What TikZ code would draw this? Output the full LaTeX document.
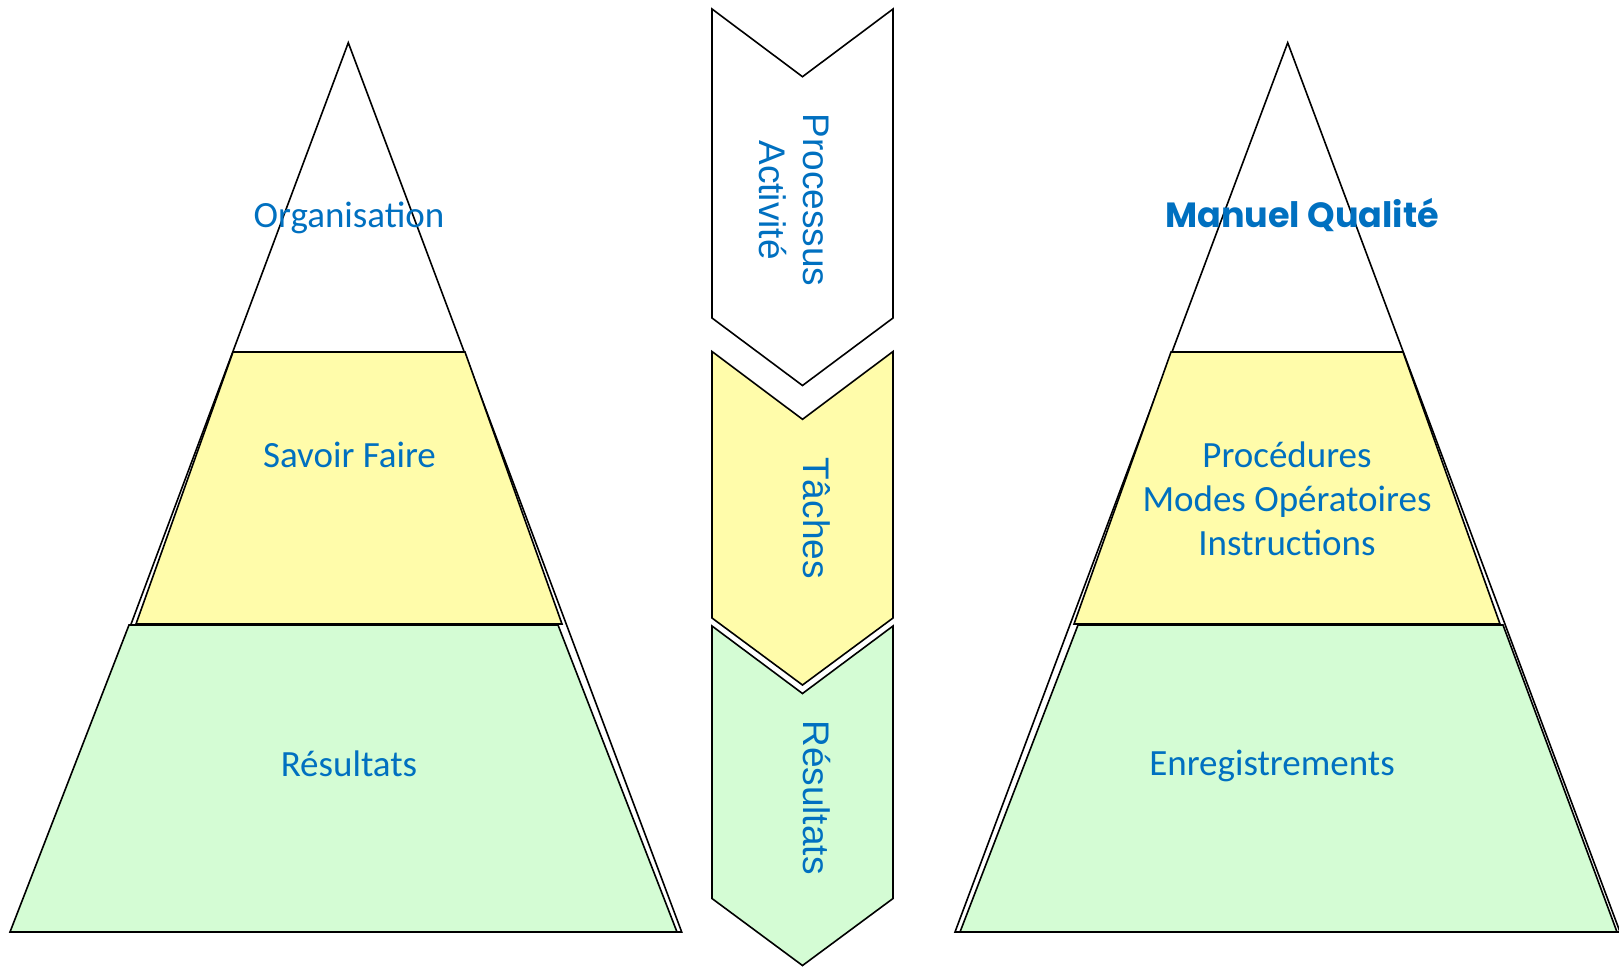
\documentclass[tikz,border=0pt]{standalone}
\usepackage{fontspec}
\setmainfont{Carlito}
\newfontfamily\chevfont{Liberation Sans}
\newfontfamily\titlefont{Poppins}
\definecolor{txtblue}{RGB}{0,112,192}
\definecolor{tierYellow}{RGB}{255,252,170}
\definecolor{tierGreen}{RGB}{212,252,212}
\begin{document}
\begin{tikzpicture}[x=1pt,y=-1pt,
  outline/.style={draw=black, line width=1.6pt, line join=miter},
  tierlabel/.style={text=txtblue, font=\fontsize{37}{44}\selectfont, inner sep=0pt, align=center},
  chevlabel/.style={text=txtblue, font=\chevfont\fontsize{37}{44.5}\selectfont, inner sep=0pt, rotate=-90, align=center},
]
\useasboundingbox[fill=white] (0,0) rectangle (1619,967);

% ---- left pyramid: outline triangle, then the two coloured tiers
\draw[outline, fill=white] (348.3,42.7) -- (681.7,932) -- (16,932) -- cycle;
\draw[outline, fill=tierYellow] (233,352) -- (465,352) -- (562,624) -- (136,624) -- cycle;
\draw[outline, fill=tierGreen] (129,625) -- (558,625) -- (677,932) -- (10,932) -- cycle;

\node[tierlabel, anchor=base] (orgL) at (349,227) {Organisation};
\node[tierlabel, anchor=base] (savoir) at (349.5,467) {Savoir Faire};
\node[tierlabel, anchor=base] (resL) at (349,776) {Résultats};

% ---- right pyramid
\draw[outline, fill=white] (1287.7,42.7) -- (1620,932) -- (955,932) -- cycle;
\draw[outline, fill=tierYellow] (1171,352) -- (1403,352) -- (1500,624) -- (1074,624) -- cycle;
\draw[outline, fill=tierGreen] (1078,625) -- (1503,625) -- (1617,932) -- (960,932) -- cycle;

\node[tierlabel, anchor=base, font=\titlefont\bfseries\fontsize{35}{40}\selectfont] (manuel) at (1302,227) {Manuel Qualité};
\node[tierlabel] (proc) at (1287,499) {Procédures\\Modes Opératoires\\Instructions};
\node[tierlabel, anchor=base] (enreg) at (1272,775) {Enregistrements};

% ---- chevrons in the middle
\draw[outline, fill=white] (712,9) -- (802.5,76.7) -- (893,9) -- (893,318) -- (802.5,385.5) -- (712,318) -- cycle;
\draw[outline, fill=tierYellow] (712,351.5) -- (802.5,419.3) -- (893,351.5) -- (893,618) -- (802.5,685) -- (712,618) -- cycle;
\draw[outline, fill=tierGreen] (712,626) -- (802.5,693.5) -- (893,626) -- (893,898.5) -- (802.5,965.5) -- (712,898.5) -- cycle;

\node[chevlabel] (procact) at (794,200) {Processus\\Activité};
\node[chevlabel, anchor=base] (taches) at (803,518) {Tâches};
\node[chevlabel, anchor=base] (resC) at (803,797.5) {Résultats};
\end{tikzpicture}
\end{document}
